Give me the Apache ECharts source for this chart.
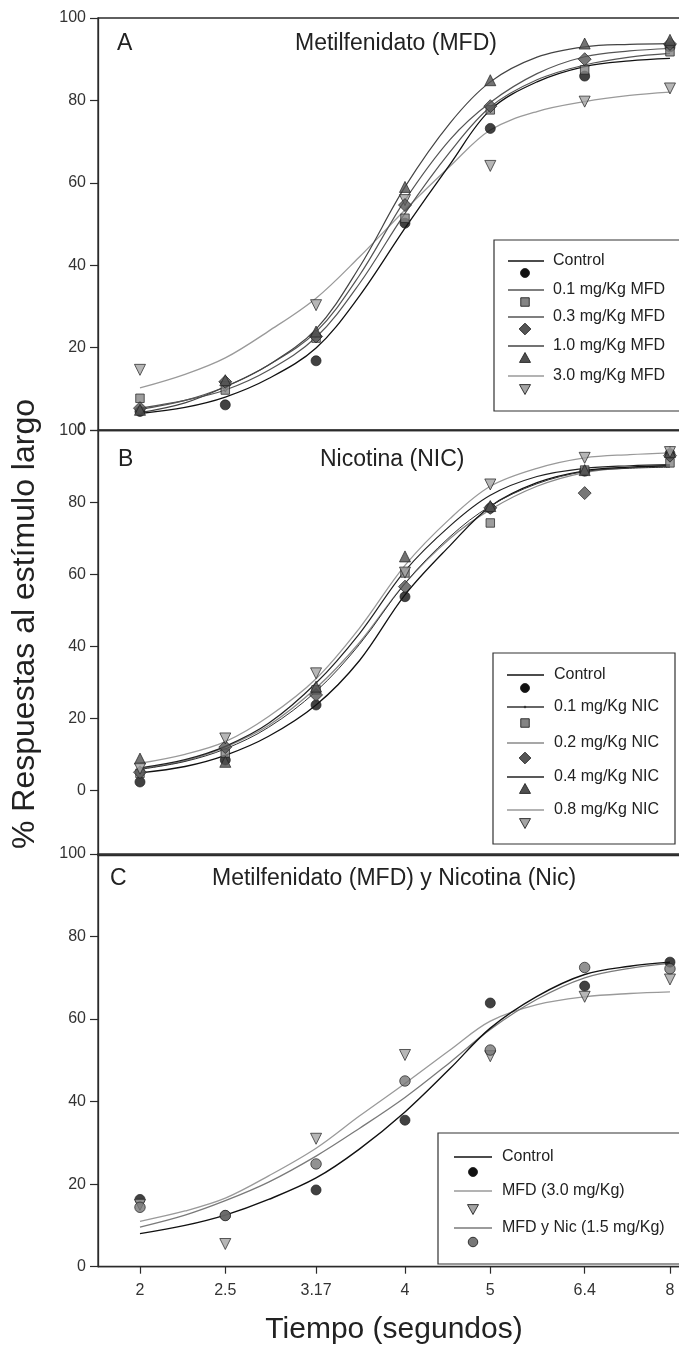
<!DOCTYPE html>
<html>
<head>
<meta charset="utf-8">
<script src="https://cdn.jsdelivr.net/npm/echarts@6/dist/echarts.min.js"></script>
<style>
html,body{margin:0;padding:0;background:#fff;}
#chart{width:679px;height:1349px;}
</style>
</head>
<body>
<div id="chart"></div>
<script>
// ---------- data ----------
const times = [2, 2.5, 3.17, 4, 5, 6.4, 8];
const tickLabels = ['2', '2.5', '3.17', '4', '5', '6.4', '8'];
const fitTimes = [2, 2.25, 2.5, 2.8, 3.17, 3.55, 4, 4.5, 5, 5.65, 6.4, 7.2, 8];
const yTicks = [0, 20, 40, 60, 80, 100];

// Panel A: Metilfenidato
const ptsA_control = [4.5, 6.1, 16.8, 50.2, 73.2, 85.9, 93];
const ptsA_mfd01 = [7.7, 9.7, 22.3, 51.4, 77.7, 87.4, 91.8];
const ptsA_mfd03 = [5.3, 11.7, 22.7, 54.6, 78.6, 90.0, 93.7];
const ptsA_mfd10 = [4.9, 12.1, 23.9, 59.0, 84.9, 93.8, 94.7];
const ptsA_mfd30 = [14.6, 10.5, 30.3, 55.8, 64.1, 79.7, 82.9];
const fitA_control = [4.0, 5.5, 8.0, 12.5, 19.9, 32.5, 49, 64.5, 77.7, 84.5, 88.2, 89.6, 90.2];
const fitA_mfd01 = [5.3, 7.2, 9.7, 14.5, 22.5, 35.5, 52.6, 67.5, 78.4, 85, 88.6, 90.5, 91.4];
const fitA_mfd03 = [5.0, 7.2, 10.5, 15.8, 23.8, 37.5, 55.8, 70.5, 79.5, 86.5, 90.6, 92, 92.6];
const fitA_mfd10 = [4.2, 6.6, 10.5, 15.8, 24.5, 39.5, 59, 74.5, 84.5, 90.5, 93, 93.6, 93.8];
const fitA_mfd30 = [10.2, 13.5, 17.5, 24, 32, 42, 53.4, 64, 72.8, 77.3, 79.7, 81.2, 82];

// Panel B: Nicotina
const ptsB_control = [2.3, 8.4, 23.7, 53.8, 78.4, 88.7, 93.5];
const ptsB_nic01 = [4.7, 10.3, 27.9, 60.4, 74.3, 89, 91];
const ptsB_nic02 = [5, 12, 26.5, 56.6, 78.5, 82.6, 93];
const ptsB_nic04 = [8.8, 7.9, 28.8, 65, 79, 89, 94];
const ptsB_nic08 = [6, 14.4, 32.5, 60.5, 85, 92.4, 94];
const fitB_control = [4.8, 6.6, 9.7, 15, 23.7, 36, 54.3, 68, 78.9, 85.5, 88.8, 89.8, 90.2];
const fitB_nic01 = [5.8, 8, 11.5, 17.5, 27.5, 40.5, 57.5, 70.5, 79, 85.2, 88.6, 89.5, 89.8];
const fitB_nic02 = [6, 8.2, 12, 18, 28.4, 41, 57.5, 70, 78, 84.5, 88.3, 89.6, 90];
const fitB_nic04 = [6.2, 8.5, 12.2, 18.6, 29.8, 43.5, 61, 73.5, 82, 87.2, 89.5, 90.2, 90.5];
const fitB_nic08 = [7.5, 10, 13.5, 20.5, 31, 45, 62.5, 75.5, 84.5, 89.5, 92.4, 93.3, 93.8];

// Panel C: MFD y Nicotina
const ptsC_control = [16.3, 12.4, 18.6, 35.5, 63.9, 68, 73.8];
const ptsC_mfd = [15, 5.5, 31, 51.3, 51, 65.4, 69.6];
const ptsC_mfdnic = [14.4, 12.4, 24.9, 45, 52.5, 72.5, 72.2];
const fitC_control = [8, 10, 12.5, 16.3, 21.5, 28.5, 37.5, 48, 57.8, 65.5, 70.8, 72.8, 73.8];
const fitC_mfd = [11, 13.5, 16.6, 22, 28.7, 36.5, 44.4, 52.5, 59.5, 63.5, 65.4, 66.2, 66.6];
const fitC_mfdnic = [9.6, 12.5, 16, 20.5, 26.8, 33.5, 41, 49.5, 57.5, 64.8, 70, 72.3, 73.5];

const legendA = ['Control', '0.1 mg/Kg MFD', '0.3 mg/Kg MFD', '1.0 mg/Kg MFD', '3.0 mg/Kg MFD'];
const legendB = ['Control', '0.1 mg/Kg NIC', '0.2 mg/Kg NIC', '0.4 mg/Kg NIC', '0.8 mg/Kg NIC'];
const legendC = ['Control', 'MFD (3.0 mg/Kg)', 'MFD y Nic (1.5 mg/Kg)'];
const panelTitles = ['Metilfenidato (MFD)', 'Nicotina (NIC)', 'Metilfenidato (MFD) y Nicotina (Nic)'];
const panelLetters = ['A', 'B', 'C'];

// ---------- styles ----------
const FONT = 'Liberation Sans, Arial, sans-serif';
const AX = '#2b2b2b';
const sty = {
  control: {symbol: 'circle', size: 10, fill: '#111', rot: 0},
  square:  {symbol: 'rect', size: 8.5, fill: '#848484', rot: 0},
  diamond: {symbol: 'diamond', size: 13, fill: '#555', rot: 0},
  tri:     {symbol: 'triangle', size: 11, fill: '#505050', rot: 0},
  dtri:    {symbol: 'triangle', size: 11, fill: '#a4a4a4', rot: 180},
  hex:     {symbol: 'circle', size: 10.5, fill: '#777', rot: 0}
};

function pairs(xs, ys) { return xs.map((x, i) => [x, ys[i]]); }

const grids = [
  {left: 98, top: 18, width: 617, height: 412},
  {left: 98, top: 430.5, width: 617, height: 424.5},
  {left: 98, top: 854, width: 617, height: 412.7}
];

function xAxisFor(i) {
  const last = i === 2;
  return {
    type: 'log', logBase: 10, gridIndex: i, min: 1.792, max: 9,
    axisLine: {show: true, onZero: false, lineStyle: {color: AX, width: 1.3}},
    axisTick: {show: last, length: 7, customValues: times, lineStyle: {color: AX, width: 1.2}},
    axisLabel: {show: last, customValues: times, margin: 16, fontFamily: FONT, fontSize: 16, color: '#333',
      formatter: function (v) {
        let best = 0;
        for (let k = 1; k < times.length; k++) if (Math.abs(times[k] - v) < Math.abs(times[best] - v)) best = k;
        return tickLabels[best];
      }},
    splitLine: {show: false}
  };
}
function yAxisFor(i, min) {
  return {
    type: 'value', gridIndex: i, min: min, max: 100,
    axisLine: {show: true, onZero: false, lineStyle: {color: AX, width: 1.3}},
    axisTick: {show: true, length: 8, customValues: yTicks, lineStyle: {color: AX, width: 1.2}},
    axisLabel: {show: true, customValues: yTicks, margin: 12, fontFamily: FONT, fontSize: 16, color: '#333'},
    splitLine: {show: false}
  };
}

const series = [];
function addFit(grid, ys, color, width) {
  series.push({type: 'line', xAxisIndex: grid, yAxisIndex: grid, data: pairs(fitTimes, ys),
    smooth: 0.35, showSymbol: false, symbol: 'none', silent: true, z: 2,
    lineStyle: {color: color, width: width}});
}
function addPts(grid, ys, s) {
  series.push({type: 'scatter', xAxisIndex: grid, yAxisIndex: grid, data: pairs(times, ys),
    symbol: s.symbol, symbolSize: s.size, symbolRotate: s.rot, z: 5,
    itemStyle: {color: s.fill, borderColor: '#222', borderWidth: 0.9}});
}

// A
addFit(0, fitA_mfd30, '#9a9a9a', 1.3);
addFit(0, fitA_control, '#111', 1.3);
addFit(0, fitA_mfd01, '#555', 1.2);
addFit(0, fitA_mfd03, '#555', 1.2);
addFit(0, fitA_mfd10, '#444', 1.2);
addPts(0, ptsA_control, sty.control);
addPts(0, ptsA_mfd30, sty.dtri);
addPts(0, ptsA_mfd01, sty.square);
addPts(0, ptsA_mfd03, sty.diamond);
addPts(0, ptsA_mfd10, sty.tri);
// B
addFit(1, fitB_nic08, '#9a9a9a', 1.3);
addFit(1, fitB_nic02, '#8a8a8a', 1.3);
addFit(1, fitB_control, '#111', 1.3);
addFit(1, fitB_nic01, '#333', 1.0);
addFit(1, fitB_nic04, '#222', 1.2);
addPts(1, ptsB_control, sty.control);
addPts(1, ptsB_nic01, sty.square);
addPts(1, ptsB_nic02, sty.diamond);
addPts(1, ptsB_nic04, sty.tri);
addPts(1, ptsB_nic08, sty.dtri);
// C
addFit(2, fitC_mfd, '#9a9a9a', 1.3);
addFit(2, fitC_mfdnic, '#7a7a7a', 1.3);
addFit(2, fitC_control, '#111', 1.4);
addPts(2, ptsC_control, sty.control);
addPts(2, ptsC_mfd, sty.dtri);
addPts(2, ptsC_mfdnic, sty.hex);

// ---------- legends & texts (graphic) ----------
const graphic = [];
function txt(x, y, text, size, align, rot) {
  const g = {type: 'text', x: x, y: y, z: 20,
    style: {text: text, font: size + 'px ' + FONT, fill: '#222', align: align || 'left', verticalAlign: 'middle'}};
  if (rot) g.rotation = rot;
  graphic.push(g);
}
function sym(cx, cy, s) {
  const st = {fill: s.fill, stroke: '#222', lineWidth: 0.9};
  const r = s.size / 2;
  if (s.symbol === 'circle') graphic.push({type: 'circle', z: 21, shape: {cx: cx, cy: cy, r: r - 0.5}, style: st});
  else if (s.symbol === 'rect') graphic.push({type: 'rect', z: 21, shape: {x: cx - r, y: cy - r, width: s.size, height: s.size}, style: st});
  else if (s.symbol === 'diamond') graphic.push({type: 'polygon', z: 21, shape: {points: [[cx, cy - r * 0.9], [cx + r * 0.9, cy], [cx, cy + r * 0.9], [cx - r * 0.9, cy]]}, style: st});
  else if (s.symbol === 'triangle' && s.rot === 0) graphic.push({type: 'polygon', z: 21, shape: {points: [[cx, cy - r], [cx + r, cy + r * 0.8], [cx - r, cy + r * 0.8]]}, style: st});
  else graphic.push({type: 'polygon', z: 21, shape: {points: [[cx, cy + r], [cx + r, cy - r * 0.8], [cx - r, cy - r * 0.8]]}, style: st});
}
function seg(x1, x2, y, color, w) {
  graphic.push({type: 'line', z: 21, shape: {x1: x1, y1: y, x2: x2, y2: y}, style: {stroke: color, lineWidth: w || 1.3}});
}
function box(x, y, w, h) {
  graphic.push({type: 'rect', z: 19, shape: {x: x, y: y, width: w, height: h}, style: {fill: '#fff', stroke: '#333', lineWidth: 1.2}});
}

// Legend A
box(494, 240, 200, 171);
const legA_y = [261, 290, 317, 346, 376];
const legA_sy = [273, 302, 329, 358, 389];
const legA_sty = [sty.control, sty.square, sty.diamond, sty.tri, sty.dtri];
const legA_col = ['#111', '#555', '#555', '#444', '#9a9a9a'];
legendA.forEach((t, i) => { seg(508, 544, legA_y[i], legA_col[i]); txt(553, legA_y[i], t, 16); sym(525, legA_sy[i], legA_sty[i]); });

// Legend B
box(493, 653, 182, 191);
const legB_y = [675, 707, 743, 777, 810];
const legB_sy = [688, 723, 758, 789, 823];
const legB_sty = [sty.control, sty.square, sty.diamond, sty.tri, sty.dtri];
const legB_col = ['#111', '#333', '#8a8a8a', '#222', '#9a9a9a'];
legendB.forEach((t, i) => { seg(507, 544, legB_y[i], legB_col[i]); txt(554, legB_y[i], t, 16); sym(525, legB_sy[i], legB_sty[i]); });
graphic.push({type: 'circle', z: 22, shape: {cx: 525, cy: legB_y[1], r: 1.3}, style: {fill: '#333'}});

// Legend C
box(438, 1133, 260, 131);
const legC_y = [1157, 1191, 1228];
const legC_sy = [1172, 1209, 1242];
const legC_sty = [sty.control, sty.dtri, sty.hex];
const legC_col = ['#111', '#9a9a9a', '#7a7a7a'];
legendC.forEach((t, i) => { seg(454, 492, legC_y[i], legC_col[i]); txt(502, legC_y[i], t, 16); sym(473, legC_sy[i], legC_sty[i]); });

// Panel titles
txt(117, 44, panelLetters[0], 23); txt(295, 44, panelTitles[0], 23);
txt(118, 460, panelLetters[1], 23); txt(320, 460, panelTitles[1], 23);
txt(110, 879, panelLetters[2], 23); txt(212, 879, panelTitles[2], 23);

// Axis titles
txt(25, 624, '% Respuestas al estímulo largo', 32, 'center', Math.PI / 2);
txt(394, 1330, 'Tiempo (segundos)', 30, 'center');

const chart = echarts.init(document.getElementById('chart'), null, {renderer: 'canvas'});
chart.setOption({
  animation: false,
  backgroundColor: '#fff',
  grid: grids.map(g => Object.assign({show: true, borderColor: AX, borderWidth: 1.3, containLabel: false, outerBoundsMode: 'none'}, g)),
  xAxis: [xAxisFor(0), xAxisFor(1), xAxisFor(2)],
  yAxis: [yAxisFor(0, 0), yAxisFor(1, -18), yAxisFor(2, 0)],
  series: series,
  graphic: graphic
});
</script>
</body>
</html>
